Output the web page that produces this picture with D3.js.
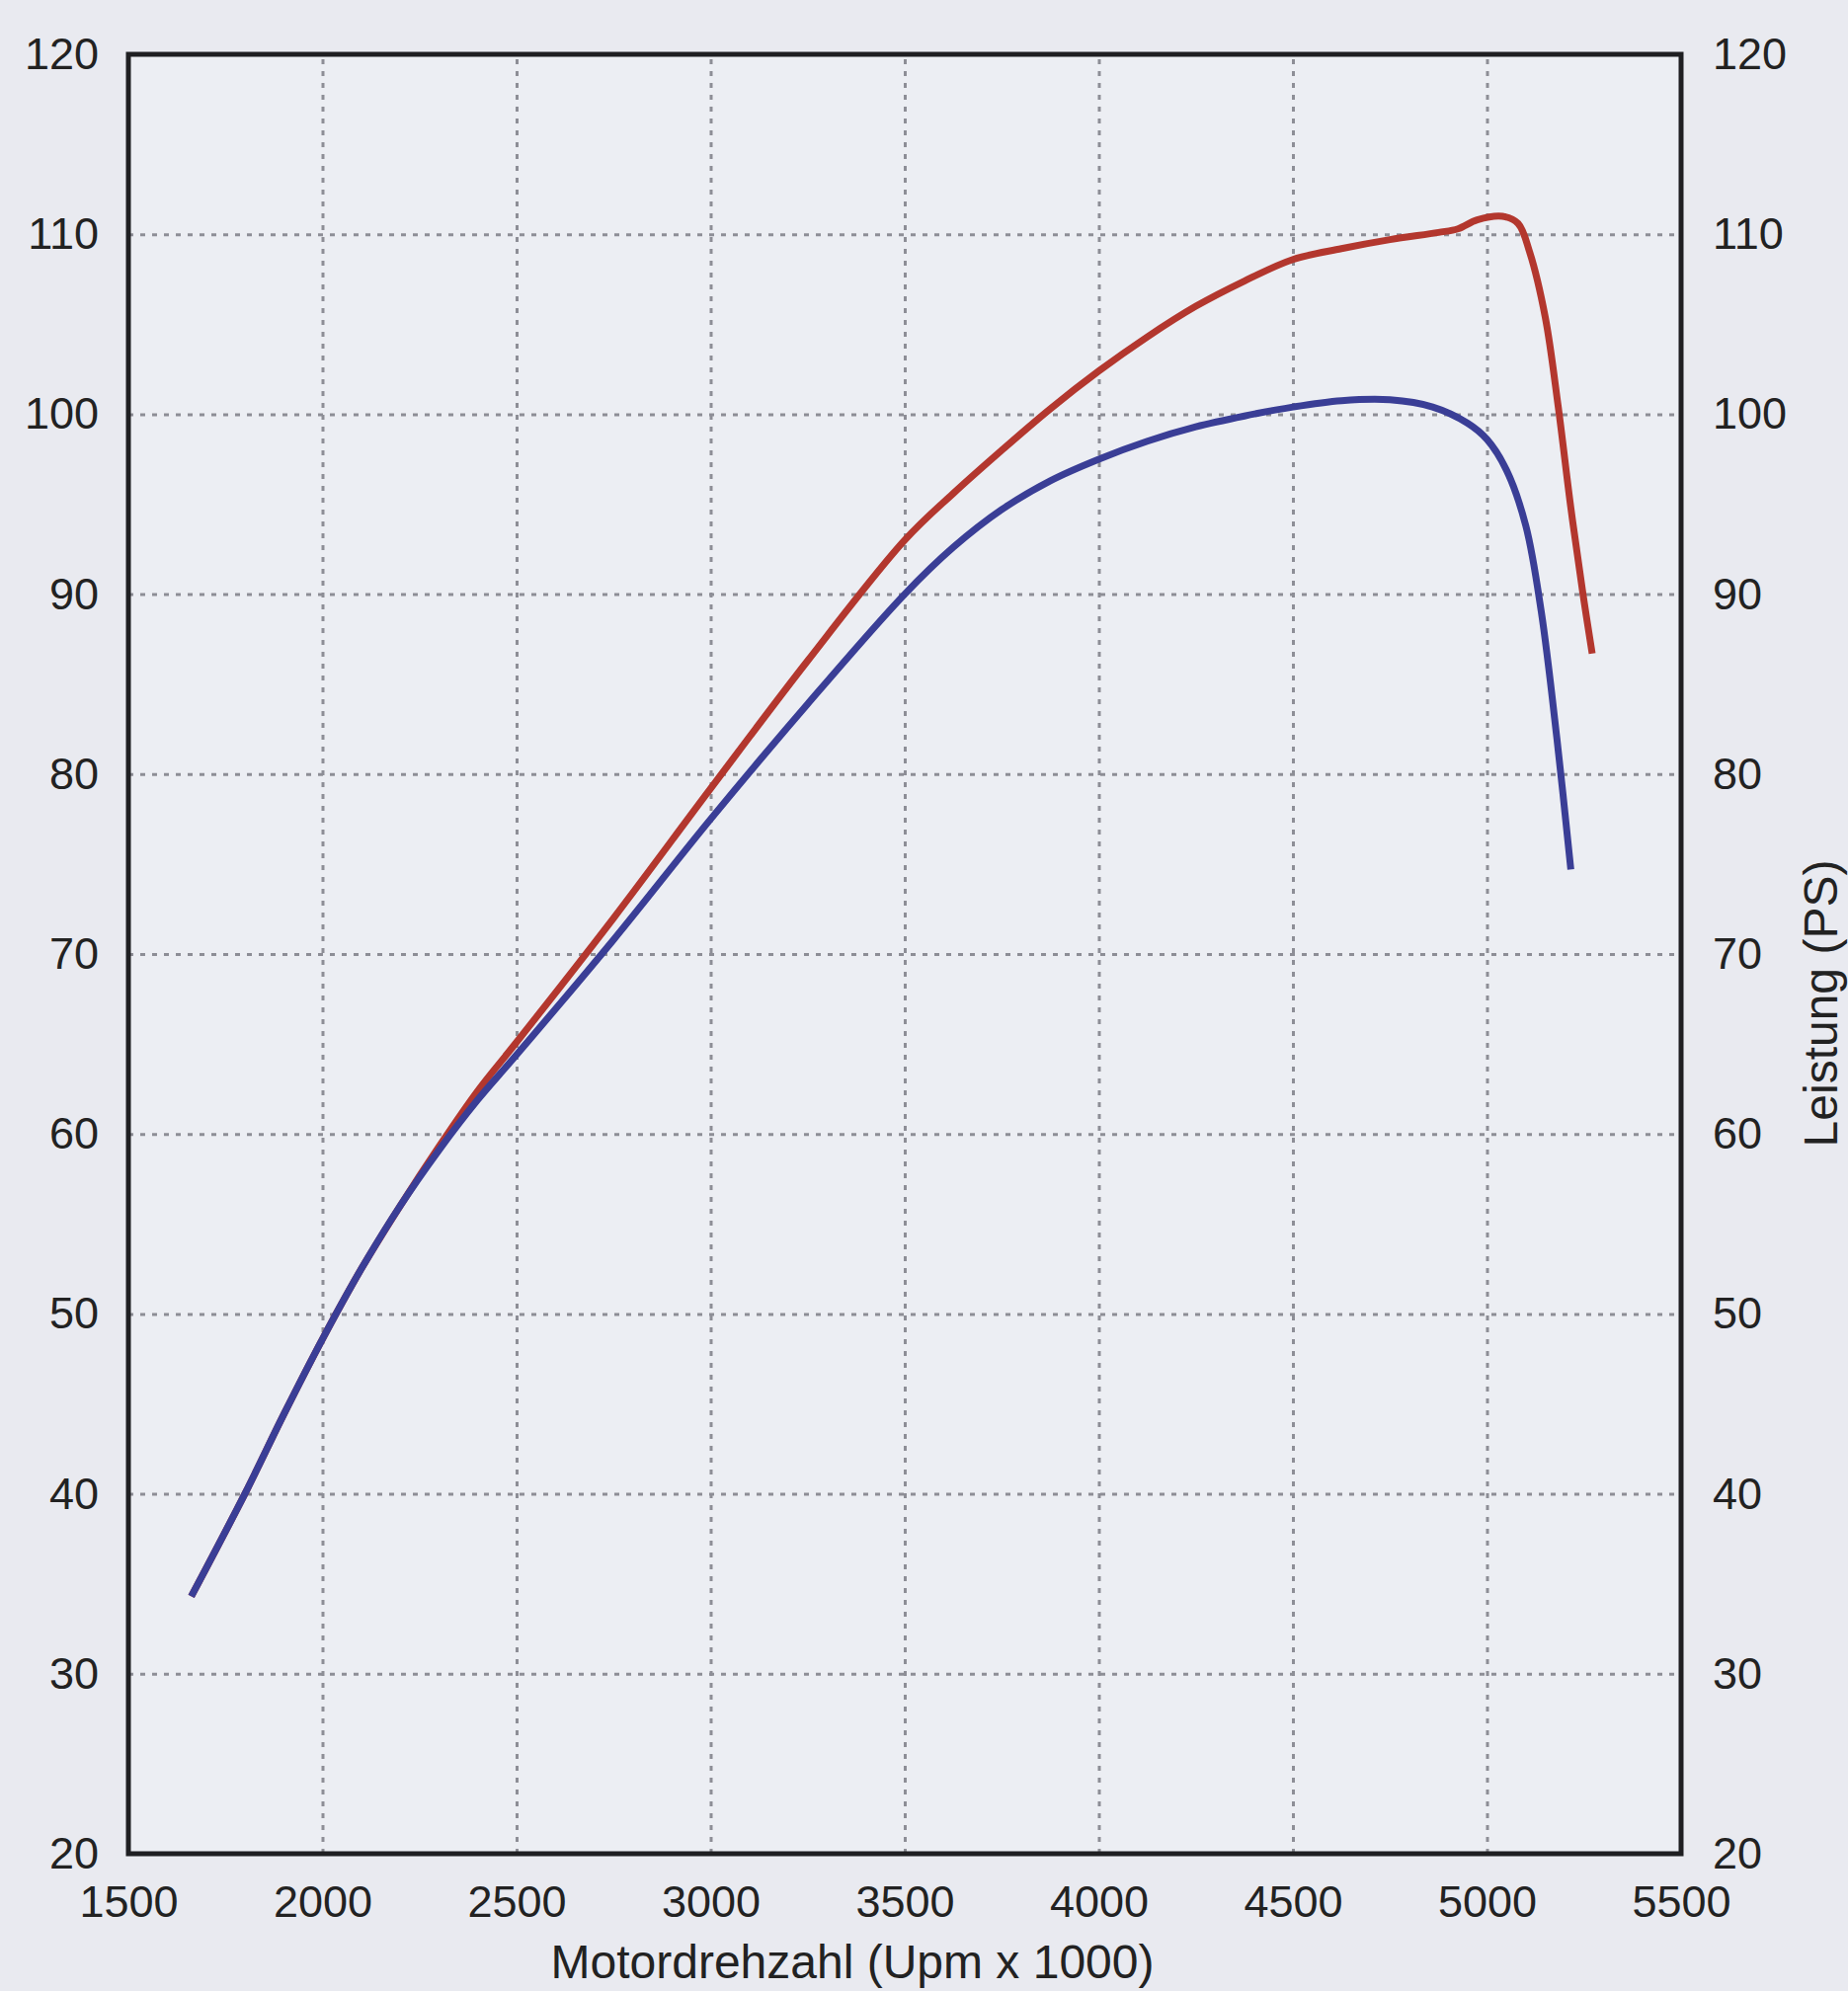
<!DOCTYPE html>
<html>
<head>
<meta charset="utf-8">
<script src="https://cdn.jsdelivr.net/npm/d3@7"></script>
<style>
body { margin: 0; background: #e9eaf0; }
svg text { font-family: "Liberation Sans", Arial, sans-serif; }
</style>
</head>
<body>
<div class="container"></div>
<script>
// Leistungskurven (PS) ueber Motordrehzahl
const xTicks = [1500, 2000, 2500, 3000, 3500, 4000, 4500, 5000, 5500];
const yTicks = [20, 30, 40, 50, 60, 70, 80, 90, 100, 110, 120];
const xGrid = [2000, 2500, 3000, 3500, 4000, 4500, 5000];
const yGrid = [30, 40, 50, 60, 70, 80, 90, 100, 110];

const blueRpm = [1662, 1800, 1900, 2000, 2100, 2200, 2300, 2400, 2500, 2750, 3000, 3250, 3500, 3625, 3750, 3875, 4000, 4125, 4250, 4375, 4500, 4625, 4750, 4860, 4950, 5000, 5050, 5100, 5140, 5180, 5216];
const bluePs  = [34.3, 40.0, 44.4, 48.6, 52.5, 56.0, 59.1, 61.9, 64.4, 70.8, 77.5, 83.9, 90.0, 92.6, 94.7, 96.3, 97.5, 98.5, 99.3, 99.9, 100.4, 100.75, 100.8, 100.4, 99.5, 98.6, 96.9, 93.8, 89.0, 82.0, 74.7];

const redRpm = [1662, 1800, 1900, 2000, 2100, 2200, 2300, 2400, 2500, 2750, 3000, 3250, 3500, 3625, 3750, 3875, 4000, 4125, 4250, 4375, 4500, 4625, 4750, 4875, 4925, 4975, 5040, 5080, 5110, 5150, 5183, 5216, 5248, 5271];
const redPs  = [34.3, 40.0, 44.4, 48.6, 52.5, 56.0, 59.3, 62.4, 65.1, 72.0, 79.2, 86.3, 93.0, 95.6, 98.0, 100.3, 102.4, 104.3, 106.0, 107.4, 108.6, 109.2, 109.7, 110.1, 110.3, 110.8, 111.0, 110.6, 109.0, 105.4, 100.5, 94.8, 89.9, 86.7];

const width = 1871;
const height = 2016;
const margin = { top: 55, right: 169, bottom: 139, left: 130 };

const svg = d3.select(".container")
    .append("svg")
    .attr("width", width)
    .attr("height", height);

const x = d3.scaleLinear().domain([1500, 5500]).range([margin.left, width - margin.right]);
const y = d3.scaleLinear().domain([20, 120]).range([height - margin.bottom, margin.top]);

const plotH = y(20) - y(120);
const plotW = x(5500) - x(1500);

svg.append("rect")
    .attr("x", x(1500)).attr("y", y(120))
    .attr("width", plotW).attr("height", plotH)
    .attr("fill", "#eceef3");

// grid
const gx = svg.append("g")
    .attr("transform", `translate(0,${y(20)})`)
    .call(d3.axisBottom(x).tickValues(xGrid).tickSize(-plotH).tickFormat(""));
const gy = svg.append("g")
    .attr("transform", `translate(${x(1500)},0)`)
    .call(d3.axisLeft(y).tickValues(yGrid).tickSize(-plotW).tickFormat(""));
[gx, gy].forEach(g => {
    g.select(".domain").remove();
    g.selectAll("line")
        .attr("stroke", "#8d8e96")
        .attr("stroke-width", 3)
        .attr("stroke-dasharray", "5,7");
});

// curves
const line = d3.line()
    .x(d => x(d[0]))
    .y(d => y(d[1]))
    .curve(d3.curveCatmullRom.alpha(0.5));

svg.append("path")
    .datum(d3.zip(redRpm, redPs))
    .attr("fill", "none")
    .attr("stroke", "#b3372e")
    .attr("stroke-width", 7)
    .attr("d", line);

svg.append("path")
    .datum(d3.zip(blueRpm, bluePs))
    .attr("fill", "none")
    .attr("stroke", "#3a3e96")
    .attr("stroke-width", 7)
    .attr("d", line);

// frame
svg.append("rect")
    .attr("x", x(1500)).attr("y", y(120))
    .attr("width", plotW).attr("height", plotH)
    .attr("fill", "none")
    .attr("stroke", "#1f1f22")
    .attr("stroke-width", 5);

// tick labels
function styleLabels(g) {
    g.select(".domain").remove();
    g.selectAll("line").remove();
    g.attr("font-family", null).attr("font-size", null);
    g.selectAll("text")
        .attr("fill", "#222")
        .style("font-size", "45px");
}

svg.append("g")
    .attr("transform", `translate(0,${y(20) + 32})`)
    .call(d3.axisBottom(x).tickValues(xTicks).tickSize(0).tickPadding(0).tickFormat(d3.format("d")))
    .call(styleLabels);

svg.append("g")
    .attr("transform", `translate(${x(1500) - 30},0)`)
    .call(d3.axisLeft(y).tickValues(yTicks).tickSize(0).tickPadding(0))
    .call(styleLabels);

svg.append("g")
    .attr("transform", `translate(${x(5500) + 32},0)`)
    .call(d3.axisRight(y).tickValues(yTicks).tickSize(0).tickPadding(0))
    .call(styleLabels);

// axis titles
svg.append("text")
    .attr("x", 863)
    .attr("y", 2003)
    .attr("text-anchor", "middle")
    .attr("fill", "#222")
    .style("font-size", "48px")
    .text("Motordrehzahl (Upm x 1000)");

svg.append("text")
    .attr("transform", "translate(1860,1016) rotate(-90)")
    .attr("text-anchor", "middle")
    .attr("fill", "#222")
    .style("font-size", "48px")
    .text("Leistung (PS)");
</script>
</body>
</html>
